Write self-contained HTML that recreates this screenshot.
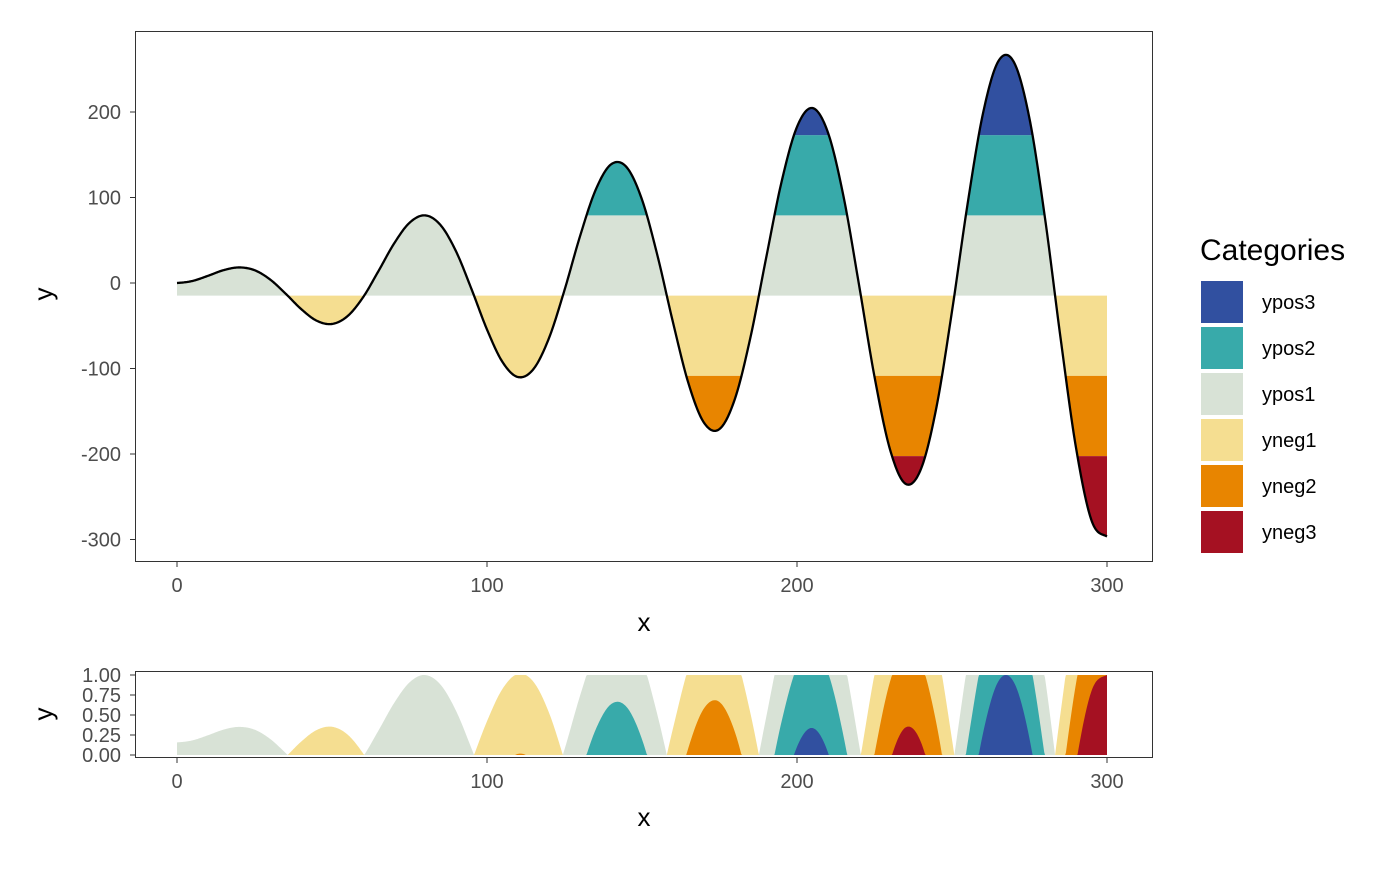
<!DOCTYPE html>
<html><head><meta charset="utf-8"><style>
body{margin:0;background:#fff}
svg text{font-family:"Liberation Sans",Arial,sans-serif}
</style></head><body>
<svg id="c" width="1400" height="865" xmlns="http://www.w3.org/2000/svg"></svg>
<script>
const xs = [];
for (let i = 0; i <= 60; i++) xs.push(i * 5);
const ys = [0,2.4,8.4,15.0,18.2,15.0,4.2,-12.3,-30.3,-44.0,-47.9,-38.8,-16.8,14.0,46.0,70.4,79.1,67.8,37.1,-7.1,-54.4,-92.4,-110.0,-100.6,-64.4,-8.3,54.6,108.5,138.7,135.6,97.5,31.9,-46.1,-117.5,-163.4,-170.8,-135.2,-63.3,28.5,118.0,182.6,204.6,175.8,101.3,-2.0,-109.6,-194.6,-234.8,-217.4,-145.0,-33.0,91.8,198.4,259.7,258.1,192.2,75.9,-63.8,-192.6,-277.6,-296.4];
const categories = ["ypos3","ypos2","ypos1","yneg1","yneg2","yneg3"];
const colors = {ypos3:"#3150A0",ypos2:"#38AAAA",ypos1:"#D8E2D6",yneg1:"#F5DE91",yneg2:"#E88500",yneg3:"#A51122"};
const xTicks = [0,100,200,300];
const yTicks = [-300,-200,-100,0,100,200];
const y2Ticks = [0,0.25,0.5,0.75,1];
const y2Labels = ["0.00","0.25","0.50","0.75","1.00"];

const NS="http://www.w3.org/2000/svg";
const svg=document.getElementById('c');
function el(t,a,p){const e=document.createElementNS(NS,t);for(const k in a)e.setAttribute(k,a[k]);(p||svg).appendChild(e);return e;}

const X=v=>177+(v-0)*(1107-177)/300;
const Y=v=>283-v*(283-112)/200;
const Y2=v=>755-v*(755-675);

const dense=[];
for(let i=0;i<xs.length-1;i++){
  const p0=ys[Math.max(0,i-1)],p1=ys[i],p2=ys[i+1],p3=ys[Math.min(ys.length-1,i+2)];
  for(let s=0;s<20;s++){const t=s/20;
    const y=0.5*((2*p1)+(-p0+p2)*t+(2*p0-5*p1+4*p2-p3)*t*t+(-p0+3*p1-3*p2+p3)*t*t*t);
    dense.push([xs[i]+t*(xs[i+1]-xs[i]),y]);}
}
dense.push([xs[xs.length-1],ys[ys.length-1]]);
const ymax=Math.max(...dense.map(d=>d[1])), ymin=Math.min(...dense.map(d=>d[1]));
const origin=(ymax+ymin)/2, step=(ymax-ymin)/6;
const clamp=(v,a,b)=>Math.max(a,Math.min(b,v));
function bandInfo(c){const k=+c.slice(-1)-1;const pos=c.startsWith('ypos');
  return pos?{pos,lo:origin+k*step}:{pos,lo:origin-k*step};}

el('rect',{x:135,y:31,width:1018,height:531,fill:'#fff'});
const gMain=el('g',{});


["ypos1","ypos2","ypos3","yneg1","yneg2","yneg3"].forEach(c=>{
  const b=bandInfo(c);let top=[],bot=[];
  dense.forEach(([x,y])=>{
    const v=b.pos?clamp(y,b.lo,b.lo+step):clamp(y,b.lo-step,b.lo);
    top.push(X(x).toFixed(2)+','+Y(v).toFixed(2));
    bot.unshift(X(x).toFixed(2)+','+Y(b.lo).toFixed(2));});
  const p=el('polygon',{points:top.concat(bot).join(' '),fill:colors[c]},gMain);
  
  
});
const ln=el('polyline',{points:dense.map(d=>X(d[0]).toFixed(2)+','+Y(d[1]).toFixed(2)).join(' '),fill:'none',stroke:'#000','stroke-width':2.3});


el('rect',{x:135.5,y:31.5,width:1017,height:530,fill:'none',stroke:'#333','stroke-width':1});

xTicks.forEach(t=>{el('line',{x1:X(t),x2:X(t),y1:562,y2:567,stroke:'#333'});
  const tx=el('text',{x:X(t),y:592,'font-size':20,fill:'#4d4d4d','text-anchor':'middle'});tx.textContent=t;
  });
yTicks.forEach(t=>{el('line',{x1:130,x2:135,y1:Y(t),y2:Y(t),stroke:'#333'});
  const tx=el('text',{x:121,y:Y(t)+7,'font-size':20,fill:'#4d4d4d','text-anchor':'end'});tx.textContent=t;
  });
let t=el('text',{x:644,y:631,'font-size':26,'text-anchor':'middle'});t.textContent='x';
t=el('text',{x:0,y:0,'font-size':26,'text-anchor':'middle',transform:'translate(52,294) rotate(-90)'});t.textContent='y';

const g2=el('g',{});


["ypos1","ypos2","ypos3","yneg1","yneg2","yneg3"].forEach(c=>{
  const b=bandInfo(c);
  const pts=dense.map(([x,y])=>{const v=b.pos?clamp((y-b.lo)/step,0,1):clamp((b.lo-y)/step,0,1);
    return X(x).toFixed(2)+','+Y2(v).toFixed(2);});
  pts.push(X(dense[dense.length-1][0]).toFixed(2)+','+Y2(0));pts.unshift(X(dense[0][0]).toFixed(2)+','+Y2(0));
  const p=el('polygon',{points:pts.join(' '),fill:colors[c]},g2);
  
  
});
el('rect',{x:135.5,y:671.5,width:1017,height:86,fill:'none',stroke:'#333'});
xTicks.forEach(t=>{el('line',{x1:X(t),x2:X(t),y1:758,y2:763,stroke:'#333'});
  const tx=el('text',{x:X(t),y:788,'font-size':20,fill:'#4d4d4d','text-anchor':'middle'});tx.textContent=t;
  });
y2Ticks.forEach((v,i)=>{el('line',{x1:130,x2:135,y1:Y2(v),y2:Y2(v),stroke:'#333'});
  const tx=el('text',{x:121,y:Y2(v)+7,'font-size':20,fill:'#4d4d4d','text-anchor':'end'});tx.textContent=y2Labels[i];
  });
t=el('text',{x:644,y:826,'font-size':26,'text-anchor':'middle'});t.textContent='x';
t=el('text',{x:0,y:0,'font-size':26,'text-anchor':'middle',transform:'translate(52,714) rotate(-90)'});t.textContent='y';

t=el('text',{x:1200,y:260,'font-size':30});t.textContent='Categories';
categories.forEach((c,i)=>{const y0=281+i*46;
  const r=el('rect',{x:1201,y:y0,width:42,height:42,fill:colors[c]});
  
  
  const tx=el('text',{x:1262,y:y0+28,'font-size':20});tx.textContent=c;
  
  
});
</script>
</body></html>
